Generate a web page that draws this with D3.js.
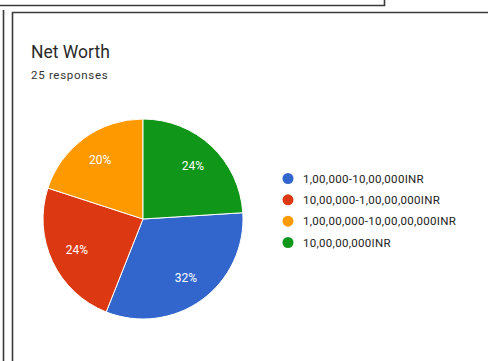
<!DOCTYPE html>
<html>
<head>
<meta charset="utf-8">
<script src="https://cdn.jsdelivr.net/npm/d3@7"></script>
<style>
  html, body { margin: 0; padding: 0; background: #fff; }
  svg { display: block; }
</style>
</head>
<body>
<svg id="chart" width="488" height="361"></svg>
<script>
// Survey result: net worth brackets
const categories = [
  "1,00,000-10,00,000INR",
  "10,00,000-1,00,00,000INR",
  "1,00,00,000-10,00,00,000INR",
  "10,00,00,000INR"
];
const shares = [32, 24, 20, 24];
const colors = ["#3366cc", "#dc3912", "#ff9900", "#109618"];
const title = "Net Worth";
const subtitle = "25 responses";

const svg = d3.select("#chart");
const W = 488, H = 361;

// frame lines around the card
const frame = svg.append("g")
  .attr("fill", "none")
  .attr("stroke", "#3a3a3a")
  .attr("stroke-width", 1.6);
frame.append("path").attr("d", "M0,5.5 H384.5 V0");
frame.append("path").attr("d", "M3.5,10 V" + H);
frame.append("path").attr("d", "M12.5," + H + " V12.5 H" + W);

// header
svg.append("text")
  .attr("x", 31).attr("y", 58)
  .attr("font-family", "Roboto, Arial, sans-serif")
  .attr("font-size", 17.5)
  .attr("fill", "#2a2a2a")
  .text(title);
svg.append("text")
  .attr("x", 31).attr("y", 79)
  .attr("font-family", "Roboto, Arial, sans-serif")
  .attr("font-size", 11.5)
  .attr("letter-spacing", 0.7)
  .attr("fill", "#333")
  .text(subtitle);

// pie
const cx = 143, cy = 219, r = 100;
const total = d3.sum(shares);
const offset = 2 * Math.PI * shares[shares.length - 1] / total;
const pie = d3.pie().sort(null).value(d => d)
  .startAngle(offset).endAngle(offset + 2 * Math.PI);
const arcs = pie(shares);
const arc = d3.arc().innerRadius(0).outerRadius(r);
const labelArc = d3.arc().innerRadius(r * 0.73).outerRadius(r * 0.73);

const g = svg.append("g").attr("transform", `translate(${cx},${cy})`);
g.selectAll("path.slice")
  .data(arcs)
  .join("path")
  .attr("class", "slice")
  .attr("d", arc)
  .attr("fill", (d, i) => colors[i])
  .attr("stroke", "#fff")
  .attr("stroke-width", 1);

g.selectAll("text.pct")
  .data(arcs)
  .join("text")
  .attr("class", "pct")
  .attr("transform", d => `translate(${labelArc.centroid(d)})`)
  .attr("text-anchor", "middle")
  .attr("dy", "0.35em")
  .attr("font-family", "Roboto, Arial, sans-serif")
  .attr("font-size", 12)
  .attr("fill", "#fff")
  .text(d => Math.round(d.data / total * 100) + "%");

// legend
const legend = svg.append("g").attr("transform", "translate(288,178.5)");
const y = d3.scalePoint().domain(categories).range([0, 64]);
const item = legend.selectAll("g")
  .data(categories)
  .join("g")
  .attr("transform", d => `translate(0,${y(d)})`);
item.append("circle")
  .attr("r", 5.5)
  .attr("fill", (d, i) => colors[i]);
item.append("text")
  .attr("x", 15)
  .attr("dy", "0.35em")
  .attr("font-family", "Roboto, Arial, sans-serif")
  .attr("font-size", 11.5)
  .attr("letter-spacing", 0.3)
  .attr("fill", "#222")
  .text(d => d);
</script>
</body>
</html>
